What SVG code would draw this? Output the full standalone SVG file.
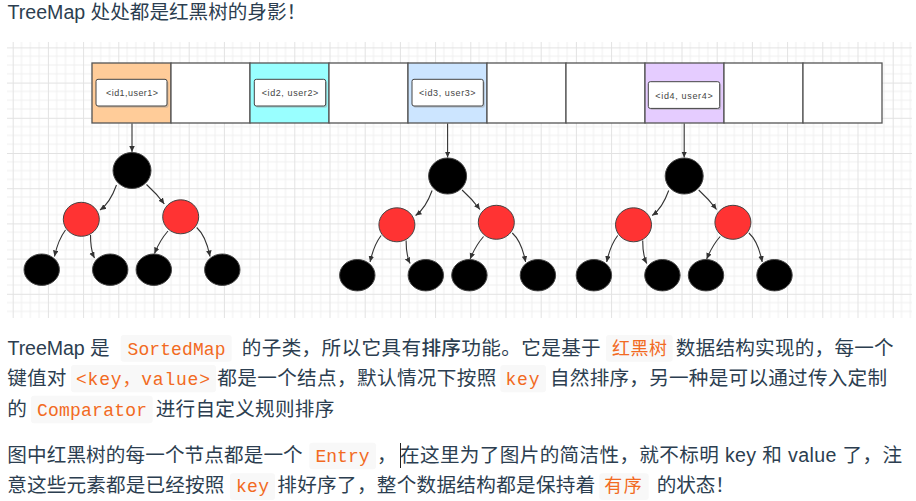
<svg xmlns="http://www.w3.org/2000/svg" width="916" height="501" viewBox="0 0 916 501">
<defs>
<pattern id="grid" patternUnits="userSpaceOnUse" x="-22.5" y="12.2" width="35.2" height="35.2">
<path d="M8.8,0V35.2M17.6,0V35.2M26.4,0V35.2M0,8.8H35.2M0,17.6H35.2M0,26.4H35.2" stroke="#f0f0f0" stroke-width="1" fill="none"/>
<path d="M0.5,0V35.2M0,0.5H35.2" stroke="#e2e2e2" stroke-width="1" fill="none"/>
</pattern>
<marker id="arr" markerUnits="userSpaceOnUse" markerWidth="7" markerHeight="6" refX="6" refY="2.75" orient="auto">
<path d="M0,0 L6,2.75 L0,5.5 z" fill="#333"/>
</marker>
</defs>
<style>
.t{font-family:"Liberation Sans","Noto Sans CJK SC",sans-serif;font-size:19.6px;fill:#2c3e50}
.c{font-family:"Liberation Mono","Noto Sans CJK SC",monospace;font-size:18px;fill:#f26a22}
.cb{fill:#f8f8f8}
.cell{stroke:#555;stroke-width:1.3}
.lbl{fill:#fff;stroke:#444;stroke-width:1}
.sh{fill:#999;opacity:0.45}
.lt{font-family:"Liberation Sans","Noto Sans CJK SC",sans-serif;font-size:9px;fill:#444}
.blk{fill:#000;stroke:#444;stroke-width:1}
.red{fill:#ff3333;stroke:#444;stroke-width:1}
.e{fill:none;stroke:#333;stroke-width:1.1;marker-end:url(#arr)}
</style>
<rect width="916" height="501" fill="#fff"/>
<text class="t" x="7.5" y="19">TreeMap 处处都是红黑树的身影！</text>
<rect x="7" y="42" width="905" height="276" fill="url(#grid)"/>

<g id="array">
<rect class="cell" x="92" y="63" width="79" height="60" fill="#ffcc99"/>
<rect class="cell" x="171" y="63" width="79" height="60" fill="#fff"/>
<rect class="cell" x="250" y="63" width="79" height="60" fill="#99ffff"/>
<rect class="cell" x="329" y="63" width="79" height="60" fill="#fff"/>
<rect class="cell" x="408" y="63" width="79" height="60" fill="#cce5ff"/>
<rect class="cell" x="487" y="63" width="79" height="60" fill="#fff"/>
<rect class="cell" x="566" y="63" width="79" height="60" fill="#fff"/>
<rect class="cell" x="645" y="63" width="79" height="60" fill="#e5ccff"/>
<rect class="cell" x="724" y="63" width="79" height="60" fill="#fff"/>
<rect class="cell" x="803" y="63" width="79" height="60" fill="#fff"/>
</g>
<g id="label1">
<rect class="sh" x="97.5" y="81" width="71" height="26.7" rx="2"/>
<rect class="lbl" x="96" y="79.3" width="71" height="26.7" rx="2"/>
<text class="lt" x="106" y="96" textLength="52">&lt;id1,user1&gt;</text>
</g>
<g id="label2">
<rect class="sh" x="255.8" y="81" width="71.4" height="26.7" rx="2"/>
<rect class="lbl" x="254.3" y="79.3" width="71.4" height="26.7" rx="2"/>
<text class="lt" x="261.7" y="96" textLength="56.6">&lt;id2, user2&gt;</text>
</g>
<g id="label3">
<rect class="sh" x="413.5" y="81" width="71.3" height="26.7" rx="2"/>
<rect class="lbl" x="412" y="79.3" width="71.3" height="26.7" rx="2"/>
<text class="lt" x="419" y="96" textLength="56.6">&lt;id3, user3&gt;</text>
</g>
<g id="label4">
<rect class="sh" x="649.8" y="83.4" width="71.4" height="26.7" rx="2"/>
<rect class="lbl" x="648.3" y="81.7" width="71.4" height="26.7" rx="2"/>
<text class="lt" x="655.3" y="98.5" textLength="57.4">&lt;id4, user4&gt;</text>
</g>

<g id="connectors">
<path class="e" d="M132,123.5 L132,152"/>
<path class="e" d="M447.6,123.5 L447.6,157.5"/>
<path class="e" d="M684.2,123.5 L684.2,157.5"/>
<path class="e" d="M116.5,185 Q110,203 100,210"/>
<path class="e" d="M146.5,184.5 Q157,194 164.3,204"/>
<path class="e" d="M65.5,230 Q58,240 54.5,256.5"/>
<path class="e" d="M90.5,235 Q90.5,250 94.5,258"/>
<path class="e" d="M168,231 Q160,240 154.5,253.5"/>
<path class="e" d="M196.7,227.5 Q206,236 210,256.5"/>
<path class="e" d="M432.1,190.5 Q425.6,208.5 415.6,215.5"/>
<path class="e" d="M462.1,190 Q472.6,199.5 479.9,209.5"/>
<path class="e" d="M381.1,235.5 Q373.6,245.5 370.1,262"/>
<path class="e" d="M406.1,240.5 Q406.1,255.5 410.1,263.5"/>
<path class="e" d="M483.6,236.5 Q475.6,245.5 470.1,259"/>
<path class="e" d="M512.3,233 Q521.6,241.5 525.6,262"/>
<path class="e" d="M668.7,190.5 Q662.2,208.5 652.2,215.5"/>
<path class="e" d="M698.7,190 Q709.2,199.5 716.5,209.5"/>
<path class="e" d="M617.7,235.5 Q610.2,245.5 606.7,262"/>
<path class="e" d="M642.7,240.5 Q642.7,255.5 646.7,263.5"/>
<path class="e" d="M720.2,236.5 Q712.2,245.5 706.7,259"/>
<path class="e" d="M748.9,233 Q758.2,241.5 762.2,262"/>
</g>

<g id="t1-root"><ellipse class="blk" cx="132" cy="170.5" rx="19" ry="18"/></g>
<g id="t1-redL"><ellipse class="red" cx="81.3" cy="219.3" rx="18" ry="17"/></g>
<g id="t1-redR"><ellipse class="red" cx="180.7" cy="216.8" rx="18" ry="17"/></g>
<g id="t1-leaf1"><ellipse class="blk" cx="41.7" cy="269.7" rx="17.7" ry="15.7"/></g>
<g id="t1-leaf2"><ellipse class="blk" cx="110.2" cy="269.7" rx="17.7" ry="15.7"/></g>
<g id="t1-leaf3"><ellipse class="blk" cx="153.8" cy="269.7" rx="17.7" ry="15.7"/></g>
<g id="t1-leaf4"><ellipse class="blk" cx="222.3" cy="269.7" rx="17.7" ry="15.7"/></g>

<g id="t2-root"><ellipse class="blk" cx="447.6" cy="176" rx="19" ry="18"/></g>
<g id="t2-redL"><ellipse class="red" cx="396.9" cy="224.8" rx="18" ry="17"/></g>
<g id="t2-redR"><ellipse class="red" cx="496.3" cy="222.3" rx="18" ry="17"/></g>
<g id="t2-leaf1"><ellipse class="blk" cx="357.3" cy="275.2" rx="17.7" ry="15.7"/></g>
<g id="t2-leaf2"><ellipse class="blk" cx="425.8" cy="275.2" rx="17.7" ry="15.7"/></g>
<g id="t2-leaf3"><ellipse class="blk" cx="469.4" cy="275.2" rx="17.7" ry="15.7"/></g>
<g id="t2-leaf4"><ellipse class="blk" cx="537.9" cy="275.2" rx="17.7" ry="15.7"/></g>

<g id="t3-root"><ellipse class="blk" cx="684.2" cy="176" rx="19" ry="18"/></g>
<g id="t3-redL"><ellipse class="red" cx="633.5" cy="224.8" rx="18" ry="17"/></g>
<g id="t3-redR"><ellipse class="red" cx="732.9" cy="222.3" rx="18" ry="17"/></g>
<g id="t3-leaf1"><ellipse class="blk" cx="593.9" cy="275.2" rx="17.7" ry="15.7"/></g>
<g id="t3-leaf2"><ellipse class="blk" cx="662.4" cy="275.2" rx="17.7" ry="15.7"/></g>
<g id="t3-leaf3"><ellipse class="blk" cx="706" cy="275.2" rx="17.7" ry="15.7"/></g>
<g id="t3-leaf4"><ellipse class="blk" cx="774.5" cy="275.2" rx="17.7" ry="15.7"/></g>

<g id="para1">
<text class="t" x="7.5" y="355" textLength="102">TreeMap 是</text>
<rect class="cb" x="120.7" y="335" width="111" height="26.7" rx="3"/>
<text class="c" x="127.5" y="355" textLength="98">SortedMap</text>
<text class="t" x="241.7" y="355" textLength="359">的子类，所以它具有<tspan font-weight="500">排序</tspan>功能。它是基于</text>
<rect class="cb" x="606" y="335" width="66.7" height="26.7" rx="3"/>
<text class="c" x="612" y="355" textLength="55">红黑树</text>
<text class="t" x="675.7" y="355" textLength="218">数据结构实现的，每一个</text>

<text class="t" x="7.3" y="385" textLength="59">键值对</text>
<rect class="cb" x="71" y="365" width="145" height="27.3" rx="3"/>
<text class="c" x="76" y="385" textLength="134">&lt;key，value&gt;</text>
<text class="t" x="217.3" y="385" textLength="279">都是一个结点，默认情况下按照</text>
<rect class="cb" x="500.3" y="365" width="45.7" height="27.3" rx="3"/>
<text class="c" x="505.5" y="385" textLength="34">key</text>
<text class="t" x="550" y="385" textLength="337">自然排序，另一种是可以通过传入定制</text>

<text class="t" x="7.3" y="415.5">的</text>
<rect class="cb" x="31" y="395.7" width="121.7" height="27.6" rx="3"/>
<text class="c" x="37" y="415.5" textLength="110">Comparator</text>
<text class="t" x="155.7" y="415.5" textLength="178.6">进行自定义规则排序</text>
</g>

<g id="para2">
<text class="t" x="7.3" y="462" textLength="295.4">图中红黑树的每一个节点都是一个</text>
<rect class="cb" x="309.3" y="442.7" width="66.7" height="26.6" rx="3"/>
<text class="c" x="315.5" y="462" textLength="54">Entry</text>
<text class="t" x="377" y="462">，</text>
<line x1="400.5" y1="443" x2="400.5" y2="468" stroke="#222" stroke-width="1"/>
<text class="t" x="400" y="462" textLength="502">在这里为了图片的简洁性，就不标明 key 和 value 了，注</text>

<text class="t" x="7.3" y="492" textLength="217">意这些元素都是已经按照</text>
<rect class="cb" x="230" y="473.3" width="45" height="26.7" rx="3"/>
<text class="c" x="236" y="492" textLength="33">key</text>
<text class="t" x="277.3" y="492" textLength="318">排好序了，整个数据结构都是保持着</text>
<rect class="cb" x="599.3" y="473.3" width="49.4" height="26.7" rx="3"/>
<text class="c" x="604.3" y="492" textLength="37.5">有序</text>
<text class="t" x="656.7" y="492" textLength="78">的状态！</text>
</g>
</svg>
